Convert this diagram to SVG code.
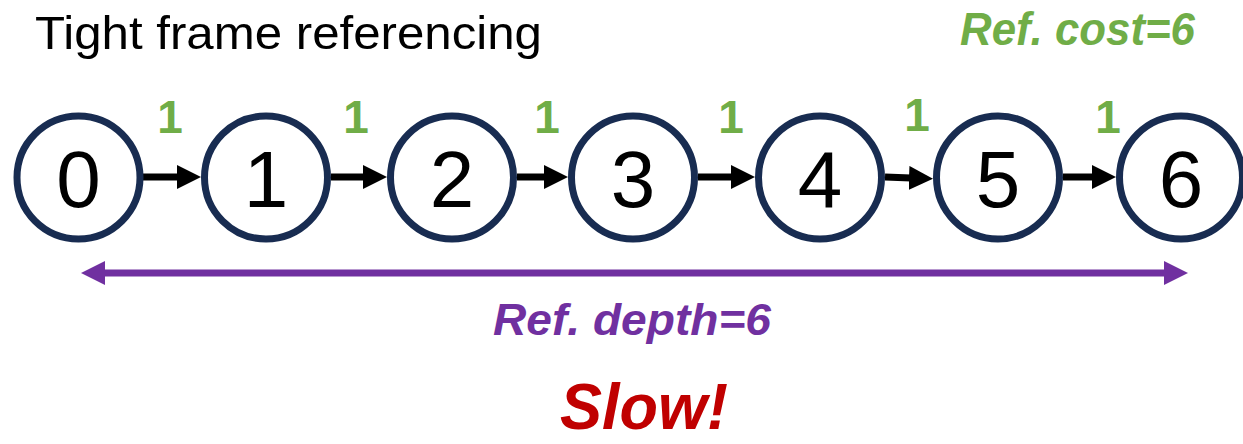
<svg xmlns="http://www.w3.org/2000/svg" width="1243" height="444" viewBox="0 0 1243 444">
<style>
.node circle{fill:#fff;stroke:#182C51;stroke-width:7}
.node text{font-family:"Liberation Sans",Arial,sans-serif;font-size:80px;fill:#000;text-anchor:middle}
.w{font-family:"Liberation Sans",Arial,sans-serif;font-weight:bold;font-size:46px;fill:#70AD47;text-anchor:middle}
.lbl{font-family:"Liberation Sans",Arial,sans-serif;font-weight:bold;font-style:italic}
.edge{stroke:#000;stroke-width:7;fill:none;marker-end:url(#ah)}
</style>
<defs>
<marker id="ah" markerUnits="userSpaceOnUse" markerWidth="24" markerHeight="24" viewBox="0 0 24 24" refX="2" refY="12" orient="auto">
<path d="M0,0 L24,12 L0,24 z" fill="#000"/>
</marker>
<marker id="ap" markerUnits="userSpaceOnUse" markerWidth="24" markerHeight="24" viewBox="0 0 24 24" refX="2" refY="12" orient="auto-start-reverse">
<path d="M0,0 L24,12 L0,24 z" fill="#7030A0"/>
</marker>
</defs>
<text x="35" y="49" font-family="'Liberation Sans',Arial,sans-serif" font-size="47" fill="#000" textLength="507" lengthAdjust="spacingAndGlyphs">Tight frame referencing</text>
<text class="lbl" x="960" y="45" font-size="46" fill="#70AD47" textLength="235" lengthAdjust="spacingAndGlyphs">Ref. cost=6</text>
<g id="connectors">
<line class="edge" x1="143" y1="177" x2="179" y2="177"/>
<line class="edge" x1="331" y1="177" x2="365" y2="177"/>
<line class="edge" x1="517" y1="177" x2="546" y2="177"/>
<line class="edge" x1="698" y1="177" x2="733" y2="177"/>
<line class="edge" x1="885" y1="177" x2="911" y2="178"/>
<line class="edge" x1="1063" y1="177" x2="1094" y2="177"/>
<line x1="103" y1="273" x2="1166" y2="273" stroke="#7030A0" stroke-width="7" marker-start="url(#ap)" marker-end="url(#ap)"/>
<text class="w" x="170" y="133">1</text>
<text class="w" x="356" y="133">1</text>
<text class="w" x="547" y="133">1</text>
<text class="w" x="731" y="133">1</text>
<text class="w" x="917" y="131">1</text>
<text class="w" x="1108" y="133">1</text>
</g>
<g id="n0" class="node"><circle cx="78.5" cy="177.5" r="61.5"/><text x="78.5" y="207">0</text></g>
<g id="n1" class="node"><circle cx="266" cy="177.5" r="61.5"/><text x="266" y="207">1</text></g>
<g id="n2" class="node"><circle cx="452" cy="177.5" r="61.5"/><text x="452" y="207">2</text></g>
<g id="n3" class="node"><circle cx="633" cy="177.5" r="61.5"/><text x="633" y="207">3</text></g>
<g id="n4" class="node"><circle cx="820" cy="177.5" r="61.5"/><text x="820" y="207">4</text></g>
<g id="n5" class="node"><circle cx="998" cy="177.5" r="61.5"/><text x="998" y="207">5</text></g>
<g id="n6" class="node"><circle cx="1181" cy="177.5" r="61.5"/><text x="1181" y="207">6</text></g>
<text class="lbl" x="560" y="335" font-size="45" fill="#7030A0" textLength="278" lengthAdjust="spacingAndGlyphs" dx="-67">Ref. depth=6</text>
<text class="lbl" x="560" y="429" font-size="64" fill="#C00000" textLength="168" lengthAdjust="spacingAndGlyphs">Slow!</text>
</svg>
